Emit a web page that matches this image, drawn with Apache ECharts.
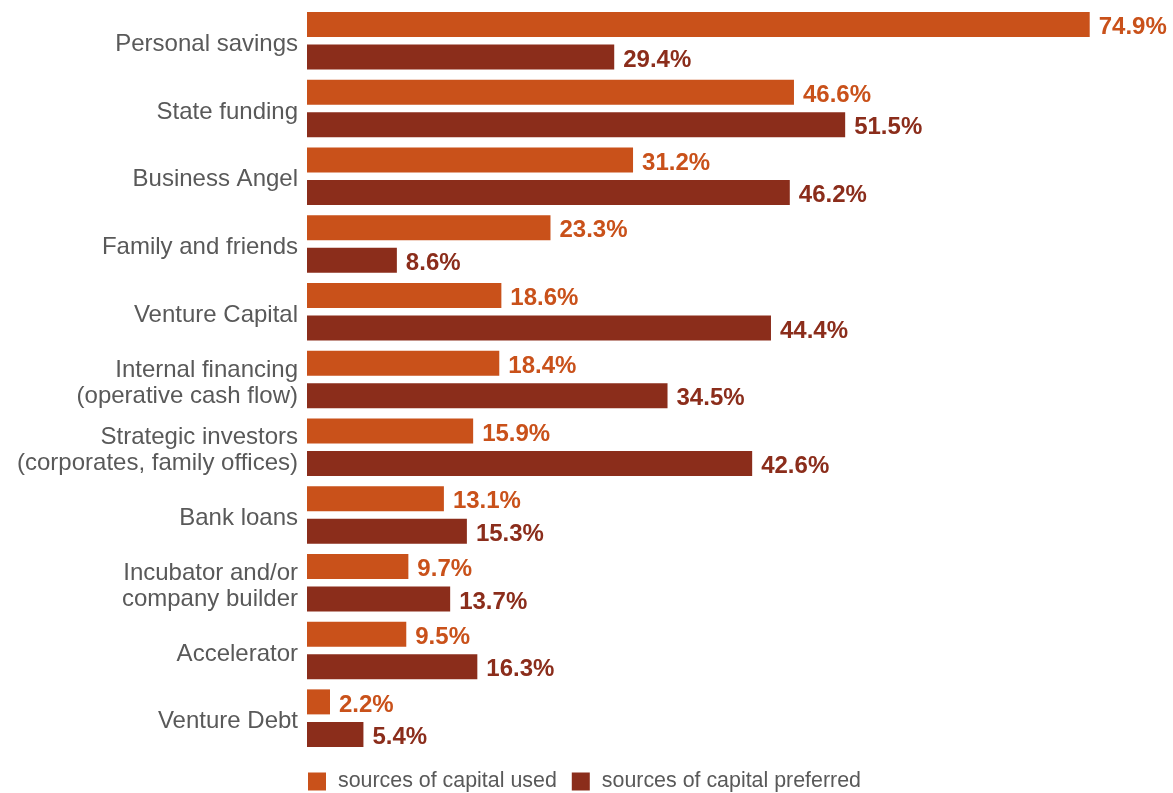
<!DOCTYPE html>
<html>
<head>
<meta charset="utf-8">
<script src="https://cdn.jsdelivr.net/npm/echarts@6/dist/echarts.min.js"></script>
<style>
  html, body { margin: 0; padding: 0; background: #fff; }
  #chart { width: 1173px; height: 793px; }
</style>
</head>
<body>
<div id="chart"></div>
<script>
// Sources of capital: share of respondents (%)
const categories = [
  'Personal savings',
  'State funding',
  'Business Angel',
  'Family and friends',
  'Venture Capital',
  'Internal financing\n(operative cash flow)',
  'Strategic investors\n(corporates, family offices)',
  'Bank loans',
  'Incubator and/or\ncompany builder',
  'Accelerator',
  'Venture Debt'
];
const usedValues = [74.9, 46.6, 31.2, 23.3, 18.6, 18.4, 15.9, 13.1, 9.7, 9.5, 2.2];
const preferredValues = [29.4, 51.5, 46.2, 8.6, 44.4, 34.5, 42.6, 15.3, 13.7, 16.3, 5.4];
const seriesNames = ['sources of capital used', 'sources of capital preferred'];

const ORANGE = '#C9511A';
const DARK = '#8B2D1B';
const GREY = '#595959';
const FONT = '"Liberation Sans", Arial, sans-serif';

function valueLabel(color) {
  return {
    show: true,
    position: 'right',
    distance: 9,
    offset: [0, 3],
    formatter: p => p.value.toFixed(1) + '%',
    color: color,
    fontFamily: FONT,
    fontWeight: 'bold',
    fontSize: 24
  };
}

// Category names: a thin spacer line on top nudges the centred text
// block slightly below the band centre.
function categoryLabel(name) {
  return '{gap| }\n' + name.split('\n').map(l => '{txt|' + l + '}').join('\n');
}

const chart = echarts.init(document.getElementById('chart'), null, { renderer: 'canvas' });
chart.setOption({
  backgroundColor: '#ffffff',
  animation: false,
  grid: { left: 307, right: 30, top: 7, bottom: 41, containLabel: false },
  xAxis: {
    type: 'value',
    min: 0,
    max: 80,
    show: false
  },
  yAxis: {
    type: 'category',
    data: categories,
    inverse: true,
    axisLine: { show: false },
    axisTick: { show: false },
    axisLabel: {
      margin: 9,
      align: 'right',
      formatter: categoryLabel,
      rich: {
        gap: { fontSize: 1, lineHeight: 7 },
        txt: { color: GREY, fontFamily: FONT, fontSize: 24, lineHeight: 26, align: 'right' }
      }
    }
  },
  legend: {
    left: 308,
    top: 771,
    padding: 0,
    itemWidth: 18,
    itemHeight: 18,
    itemGap: 15,
    icon: 'rect',
    textStyle: { color: GREY, fontFamily: FONT, fontSize: 21.4, padding: [2, 0, 0, 7] },
    data: seriesNames
  },
  series: [
    {
      name: seriesNames[0],
      type: 'bar',
      data: usedValues,
      barWidth: 25,
      barGap: '30%',
      itemStyle: { color: ORANGE },
      label: valueLabel(ORANGE)
    },
    {
      name: seriesNames[1],
      type: 'bar',
      data: preferredValues,
      barWidth: 25,
      barGap: '30%',
      itemStyle: { color: DARK },
      label: valueLabel(DARK)
    }
  ]
});
</script>
</body>
</html>
